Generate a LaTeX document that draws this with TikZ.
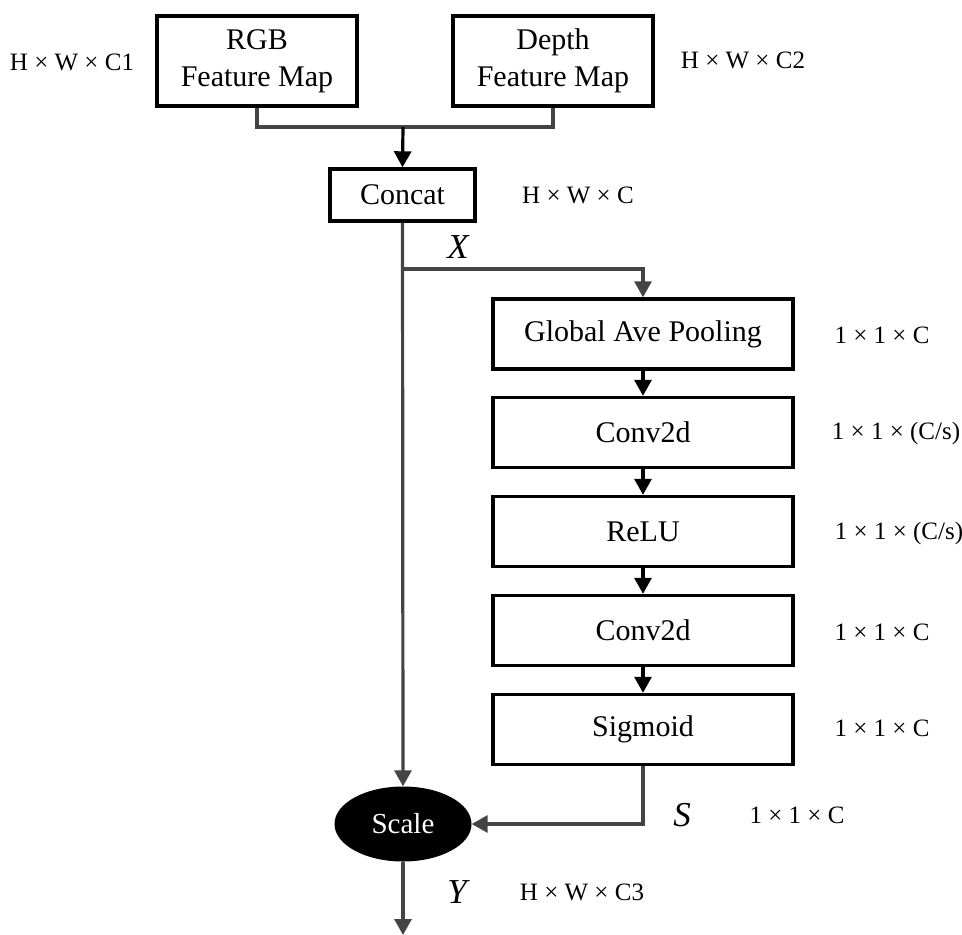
\documentclass[tikz,border=0pt]{standalone}
\usepackage{fontspec}
\setmainfont{Liberation Serif}
\usepackage{xcolor}
\usetikzlibrary{arrows.meta,positioning,calc,shapes.geometric}
\definecolor{linkgray}{HTML}{444444}

\begin{document}
\begin{tikzpicture}[x=1pt, y=-1pt,
    block/.style={draw, line width=3.4pt, fill=white, align=center, inner sep=0pt,
        font=\fontsize{30}{37}\selectfont},
    dimlabel/.style={font=\fontsize{25}{28}\selectfont, inner sep=0pt},
    varlabel/.style={font=\fontsize{35}{38}\selectfont\itshape, inner sep=0pt},
    link/.style={draw=linkgray, line width=3.2pt},
    grayarrow/.style={link, -{Triangle[width=17pt,length=16pt]}},
    blackarrow/.style={draw=black, line width=3.2pt, -{Triangle[width=17pt,length=16pt]}}]
    \useasboundingbox (0,0) rectangle (962,935);

    % Input feature maps
    \node[block, minimum width=200pt, minimum height=90pt] (rgb) at (257,61) {RGB\\Feature Map};
    \node[block, minimum width=200pt, minimum height=90pt] (depth) at (553,61) {Depth\\Feature Map};
    \node[dimlabel] (rgbdim) at (72,62) {H × W × C1};
    \node[dimlabel] (depthdim) at (743,60) {H × W × C2};

    % Concat
    \node[block, minimum width=145pt, minimum height=52pt] (concat) at (402.5,195) {Concat};
    \node[dimlabel] (concatdim) at (578,195) {H × W × C};
    \node[varlabel] (xlab) at (458,247) {X};

    % Excitation branch
    \node[block, minimum width=300pt, minimum height=70pt] (gap) at (643,334) {Global Ave Pooling};
    \node[block, minimum width=300pt, minimum height=70pt] (conva) at (643,432.5) {Conv2d};
    \node[block, minimum width=300pt, minimum height=70pt] (relu) at (643,531.5) {ReLU};
    \node[block, minimum width=300pt, minimum height=70pt] (convb) at (643,630.5) {Conv2d};
    \node[block, minimum width=300pt, minimum height=70pt] (sigm) at (643,729.5) {Sigmoid};
    \node[dimlabel] (gapdim) at (882,335) {1 × 1 × C};
    \node[dimlabel] (convadim) at (896,433) {1 × 1 × (C/s)};
    \node[dimlabel] (reludim) at (899,533) {1 × 1 × (C/s)};
    \node[dimlabel] (convbdim) at (882,632) {1 × 1 × C};
    \node[dimlabel] (sigmdim) at (882,728) {1 × 1 × C};

    % Scale
    \node[ellipse, fill=black, text=white, minimum width=137pt, minimum height=75pt, inner sep=0pt,
        font=\fontsize{29}{32}\selectfont] (scale) at (403,824) {Scale};
    \node[varlabel] (slab) at (682,815) {S};
    \node[dimlabel] (sdim) at (797,815) {1 × 1 × C};
    \node[varlabel] (ylab) at (457,892) {Y};
    \node[dimlabel] (ydim) at (582,892) {H × W × C3};

    % Junctions
    \coordinate (merge) at (403,127);
    \coordinate (branch) at (403,269);
    \coordinate (out) at (403,935);

    % Connectors
    \draw[link] (rgb.south) |- (merge) -| (depth.south);
    \draw[blackarrow] (merge) -- (concat.north);
    \draw[grayarrow] (concat.south) -- (scale.north);
    \draw[grayarrow] (branch) -| (gap.north);
    \draw[blackarrow] (gap) -- (conva);
    \draw[blackarrow] (conva) -- (relu);
    \draw[blackarrow] (relu) -- (convb);
    \draw[blackarrow] (convb) -- (sigm);
    \draw[grayarrow] (sigm.south) |- (scale.east);
    \draw[grayarrow] (scale.south) -- (out);
\end{tikzpicture}
\end{document}
